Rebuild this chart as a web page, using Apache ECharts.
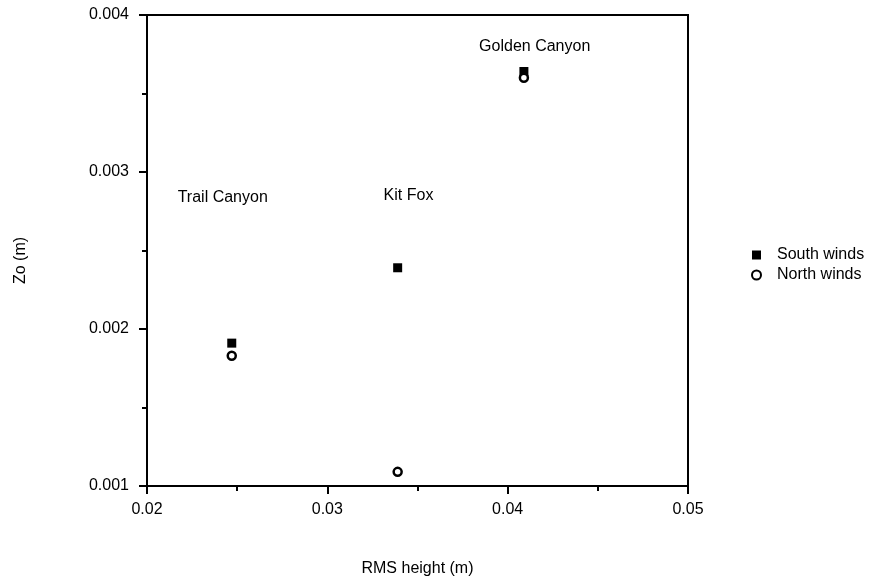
<!DOCTYPE html>
<html>
<head>
<meta charset="utf-8">
<script src="https://cdn.jsdelivr.net/npm/echarts@6/dist/echarts.min.js"></script>
<style>html,body{margin:0;padding:0;background:#fff}#c{width:873px;height:582px}</style>
</head>
<body>
<div id="c"></div>
<script>
// Data
var sites = ['Trail Canyon', 'Kit Fox', 'Golden Canyon'];
var rmsHeight = [0.0247, 0.0339, 0.0409];
var zoSouth = [0.00191, 0.00239, 0.00364];
var zoNorth = [0.00183, 0.00109, 0.00360];
var siteLabelX = [0.0242, 0.0345, 0.0415];
var siteLabelY = [0.00284, 0.00285, 0.00380];
var xTicks = [0.02, 0.03, 0.04, 0.05];
var yTicks = [0.001, 0.002, 0.003, 0.004];

function pairs(xs, ys) { return xs.map(function (x, i) { return [x, ys[i]]; }); }
var font = 'Liberation Sans, Arial, sans-serif';
var ink = '#000';

var chart = echarts.init(document.getElementById('c'));
chart.setOption({
  animation: false,
  backgroundColor: '#fff',
  textStyle: { fontFamily: font, color: ink },
  grid: { left: 147, right: 185, top: 15, bottom: 96, show: true, borderColor: ink, borderWidth: 2, backgroundColor: 'transparent' },
  legend: {
    orient: 'vertical', left: 746, top: 242, itemWidth: 9, itemHeight: 9, itemGap: 4,
    textStyle: { fontFamily: font, fontSize: 16, color: ink, padding: [0, 0, 0, 11] },
    data: ['South winds', 'North winds']
  },
  xAxis: {
    type: 'value', min: xTicks[0], max: xTicks[xTicks.length - 1], interval: 0.01,
    name: 'RMS height (m)', nameLocation: 'middle', nameGap: 75,
    nameTextStyle: { fontFamily: font, fontSize: 16, color: ink },
    axisLine: { lineStyle: { color: ink, width: 2 } },
    axisTick: { show: true, length: 8, lineStyle: { color: ink, width: 2 } },
    minorTick: { show: true, splitNumber: 2, length: 5, lineStyle: { color: ink, width: 2 } },
    splitLine: { show: false },
    axisLabel: { fontFamily: font, fontSize: 16, color: ink, margin: 16, formatter: function (v) { return v.toFixed(2); } }
  },
  yAxis: {
    type: 'value', min: yTicks[0], max: yTicks[yTicks.length - 1], interval: 0.001,
    name: 'Zo (m)', nameLocation: 'middle', nameGap: 118, nameRotate: 90,
    nameTextStyle: { fontFamily: font, fontSize: 16, color: ink, padding: [0, 20, 0, 0] },
    axisLine: { lineStyle: { color: ink, width: 2 } },
    axisTick: { show: true, length: 8, lineStyle: { color: ink, width: 2 } },
    minorTick: { show: true, splitNumber: 2, length: 5, lineStyle: { color: ink, width: 2 } },
    splitLine: { show: false },
    axisLabel: { fontFamily: font, fontSize: 16, color: ink, margin: 18, formatter: function (v) { return v.toFixed(3); } }
  },
  series: [
    {
      name: 'South winds', type: 'scatter', symbol: 'rect', symbolSize: 9,
      itemStyle: { color: ink, opacity: 1 },
      data: pairs(rmsHeight, zoSouth), z: 3
    },
    {
      name: 'North winds', type: 'scatter', symbol: 'circle', symbolSize: 8,
      itemStyle: { color: '#fff', borderColor: ink, borderWidth: 2.5, opacity: 1 },
      data: pairs(rmsHeight, zoNorth), z: 4
    },
    {
      name: 'labels', type: 'scatter', symbolSize: 1, silent: true,
      itemStyle: { color: 'rgba(0,0,0,0)', opacity: 1 },
      data: siteLabelX.map(function (x, i) { return { value: [x, siteLabelY[i]], name: sites[i] }; }),
      label: { show: true, position: 'inside', formatter: '{b}', fontFamily: font, fontSize: 16, color: ink, opacity: 1 }
    }
  ]
});
</script>
</body>
</html>
